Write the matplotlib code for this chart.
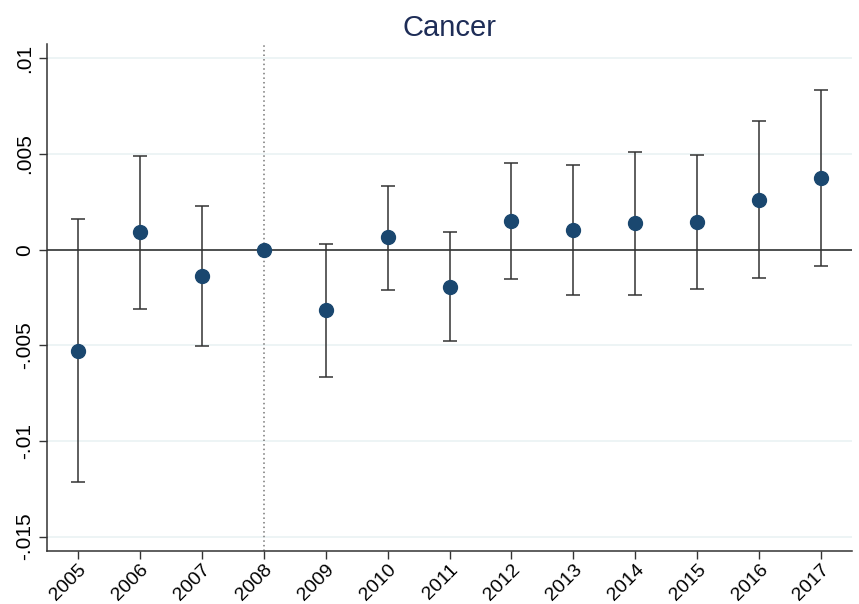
import numpy as np
import matplotlib
matplotlib.use("Agg")
import matplotlib.pyplot as plt

plt.rcParams['font.family'] = ['Liberation Sans', 'DejaVu Sans']

# event-study coefficients (2008 = reference year, no CI)
years = [2005, 2006, 2007, 2008, 2009, 2010, 2011, 2012, 2013, 2014, 2015, 2016, 2017]
coef = [-0.00529, 0.0009, -0.00137, 0.0, -0.00316, 0.00064, -0.00194,
        0.00149, 0.00102, 0.00137, 0.00145, 0.00262, 0.00375]
ci_hi = [0.00159, 0.0049, 0.00229, np.nan, 0.00032, 0.00335, 0.0009,
         0.00454, 0.00443, 0.00511, 0.00495, 0.00673, 0.00832]
ci_lo = [-0.01216, -0.00311, -0.00503, np.nan, -0.00664, -0.0021, -0.00476,
         -0.00154, -0.00239, -0.00236, -0.00205, -0.00147, -0.00083]
yticks = [-0.015, -0.01, -0.005, 0, 0.005, 0.01]
ytick_labels = ["-.015", "-.01", "-.005", "0", ".005", ".01"]
ref_year = 2008

coef = np.array(coef)
lo = coef - np.array(ci_lo)
hi = np.array(ci_hi) - coef

fig = plt.figure(figsize=(8.59, 6.04), dpi=100)
ax = fig.add_axes([47 / 859, 1 - 551 / 604, 805 / 859, 507 / 604])

for t in yticks:
    ax.axhline(t, color='#eaf2f3', lw=1.2, zorder=0)
ax.axhline(0, color='#222222', lw=1.1, zorder=1)
ax.axvline(ref_year, color='#777777', lw=1.1, ls=(0, (1, 2)), zorder=1)

ax.errorbar(years, coef, yerr=[lo, hi], fmt='none', ecolor='#333333',
            elinewidth=1.1, capsize=5, capthick=1.1, zorder=2)
ax.plot(years, coef, 'o', color='#1a476f', ms=10, zorder=3)

ax.set_xlim(2004.5, 2017.5)
ax.set_ylim(-0.01575, 0.01075)
ax.set_xticks(years)
ax.set_xticklabels([str(y) for y in years], rotation=45, ha='right',
                   rotation_mode='anchor', fontsize=14)
ax.set_yticks(yticks)
ax.set_yticklabels(ytick_labels, rotation=90, va='center', fontsize=15)
ax.tick_params(axis='both', length=6, width=1, color='#333333')
ax.tick_params(axis='x', pad=1)

for s in ['top', 'right']:
    ax.spines[s].set_visible(False)
for s in ['left', 'bottom']:
    ax.spines[s].set_color('#333333')
    ax.spines[s].set_linewidth(1.1)

ax.set_title("Cancer", fontsize=21, color='#1e2d57', pad=6)

fig.savefig("out.png", dpi=100)
